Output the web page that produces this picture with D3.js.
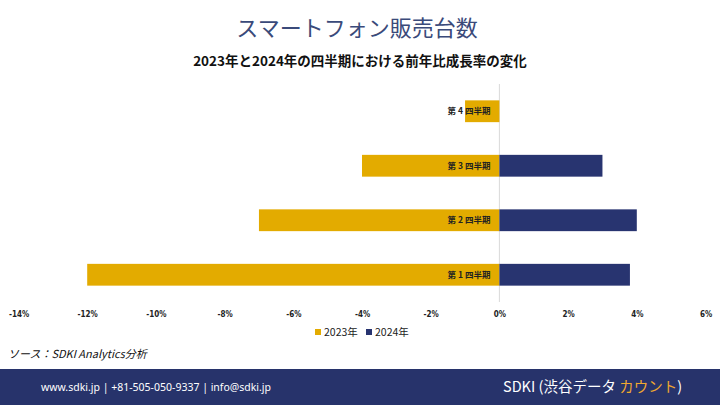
<!DOCTYPE html>
<html><head><meta charset="utf-8">
<script src="https://cdn.jsdelivr.net/npm/d3@7"></script>
<style>body{margin:0;background:#fff;}svg{display:block;font-family:"Noto Sans CJK JP","Noto Sans",sans-serif;}</style>
</head><body><svg id="c" width="720" height="405"></svg>
<script>
const categories = ["第 4 四半期","第 3 四半期","第 2 四半期","第 1 四半期"];
const values2023 = [-1, -4, -7, -12];
const values2024 = [0, 3, 4, 3.8];
const tickValues = [-14,-12,-10,-8,-6,-4,-2,0,2,4,6];
const seriesNames = ["2023年","2024年"];
const colors = ["#E3AB00","#283470"];

const svg = d3.select("#c");
svg.append("text").attr("x",357).attr("y",36).attr("text-anchor","middle")
  .attr("font-size",22).attr("fill","#3a4a7a").text("スマートフォン販売台数");
svg.append("text").attr("x",360).attr("y",66).attr("text-anchor","middle")
  .attr("font-size",13.5).attr("font-weight","bold").attr("fill","#111").text("2023年と2024年の四半期における前年比成長率の変化");

const x = d3.scaleLinear().domain([-14,6]).range([18.5,705.5]);
const y = d3.scaleBand().domain(categories).range([84,302]).paddingInner(0.6).paddingOuter(0.3);

const g = svg.append("g");
g.append("line").attr("x1",x(0)).attr("x2",x(0)).attr("y1",84).attr("y2",302)
  .attr("stroke","#d9d9d9").attr("stroke-width",1);

const data = categories.map((c,i)=>({c, a:values2023[i], b:values2024[i]}));
g.selectAll("rect.a").data(data).join("rect").attr("class","a")
  .attr("x",d=>x(Math.min(0,d.a))).attr("width",d=>Math.abs(x(d.a)-x(0)))
  .attr("y",d=>y(d.c)).attr("height",y.bandwidth()).attr("fill",colors[0]);
g.selectAll("rect.b").data(data.filter(d=>d.b!==0)).join("rect").attr("class","b")
  .attr("x",d=>x(Math.min(0,d.b))).attr("width",d=>Math.abs(x(d.b)-x(0)))
  .attr("y",d=>y(d.c)).attr("height",y.bandwidth()).attr("fill",colors[1]);

g.selectAll("text.cat").data(categories).join("text").attr("class","cat")
  .attr("x",x(0)-9).attr("y",d=>y(d)+y.bandwidth()/2).attr("dy","0.35em")
  .attr("text-anchor","end").attr("font-size",8.5).attr("font-weight","bold").attr("fill","#222").text(d=>d);

const axis = d3.axisBottom(x).tickValues(tickValues).tickFormat(d=>d+"%").tickSize(0).tickPadding(0);
const ax = svg.append("g").attr("transform","translate(0,317)").call(axis);
ax.select(".domain").remove();
ax.selectAll("text").attr("font-size",8).attr("font-weight","bold").attr("fill","#222")
  .attr("font-family","'Liberation Sans Narrow','DejaVu Sans Condensed',sans-serif").attr("dy","0");

const lg = svg.append("g").attr("transform","translate(0,332)");
const legX = [315,366];
seriesNames.forEach((n,i)=>{
  lg.append("rect").attr("x",legX[i]).attr("y",-3).attr("width",6).attr("height",6).attr("fill",colors[i]);
  lg.append("text").attr("x",legX[i]+9).attr("y",0).attr("dy","0.35em").attr("font-size",10.5).attr("fill","#222").text(n);
});

svg.append("text").attr("x",8).attr("y",358).attr("font-size",11).attr("font-style","italic").attr("fill","#111").text("ソース：SDKI Analytics分析");

svg.append("rect").attr("x",0).attr("y",369).attr("width",720).attr("height",36).attr("fill","#27336b");
svg.append("text").attr("x",41).attr("y",391).attr("font-size",10.5).attr("fill","#fff")
  .attr("font-family","'Liberation Sans Narrow','Noto Sans',sans-serif").text("www.sdki.jp | +81-505-050-9337 | info@sdki.jp");
const ft = svg.append("text").attr("x",503).attr("y",392).attr("font-size",14.5).attr("fill","#fff");
ft.append("tspan").text("SDKI (渋谷データ ");
ft.append("tspan").attr("fill","#f0a830").text("カウント");
ft.append("tspan").text(")");
</script></body></html>
